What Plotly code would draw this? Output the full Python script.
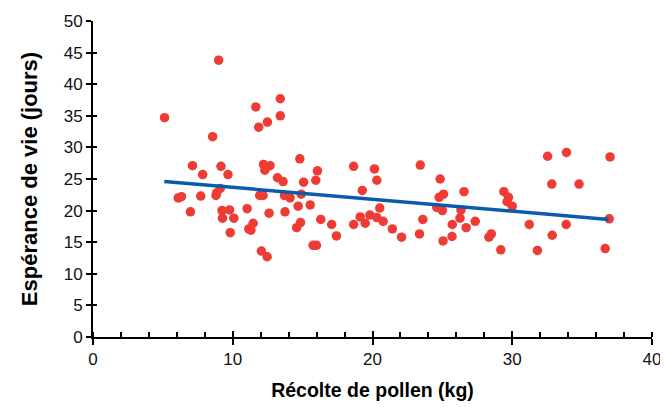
import plotly.graph_objects as go

pollen_kg = [5.12, 8.99, 11.65, 13.4, 11.86, 12.48, 13.4, 8.56, 7.12, 7.85, 9.16, 9.66, 12.2, 12.67, 12.3, 13.2,
             6.1, 6.33, 7.71, 8.8, 8.85, 9.1, 6.97, 9.23, 9.27, 9.77, 10.08, 9.82, 11.03, 11.46, 11.15, 11.3,
             11.93, 12.17, 12.6, 12.05, 12.46, 14.8, 13.6, 15.07, 16.06, 15.94, 13.7, 14.1, 14.9, 13.74, 14.68,
             15.54, 14.85, 14.57, 16.3, 17.08, 17.42, 18.65, 19.27, 20.14, 20.31, 20.52, 19.12, 18.65, 19.48,
             19.81, 20.31, 20.76, 21.42, 22.08, 23.42, 24.84, 24.77, 25.08, 24.6, 25.0, 23.6, 23.36, 26.55,
             26.33, 26.26, 25.71, 25.69, 25.05, 26.7, 15.75, 15.99, 32.53, 33.88, 37.0, 32.83, 34.78, 29.4,
             29.73, 29.63, 30.0, 27.35, 28.5, 28.33, 31.22, 33.86, 32.86, 36.94, 29.18, 31.8, 36.65]
esperance_jours = [34.7, 43.8, 36.4, 37.7, 33.2, 34.0, 35.0, 31.7, 27.1, 25.7, 27.0, 25.7, 27.3, 27.1, 26.4, 25.2,
                   22.0, 22.2, 22.3, 22.4, 22.8, 23.5, 19.8, 20.0, 18.8, 20.1, 18.8, 16.5, 20.3, 18.0, 17.1, 16.9,
                   22.4, 22.4, 19.6, 13.6, 12.7, 28.2, 24.6, 24.5, 26.3, 24.8, 22.4, 22.0, 22.6, 19.8, 20.7,
                   20.9, 18.1, 17.3, 18.6, 17.8, 16.0, 27.0, 23.2, 26.6, 24.8, 20.4, 19.0, 17.8, 18.0,
                   19.3, 18.9, 18.3, 17.1, 15.8, 27.2, 25.0, 22.1, 22.6, 20.5, 20.0, 18.6, 16.3, 23.0,
                   20.1, 18.8, 17.8, 15.9, 15.2, 17.3, 14.5, 14.5, 28.6, 29.2, 28.5, 24.2, 24.2, 23.0,
                   22.1, 21.4, 20.7, 18.3, 16.3, 15.8, 17.8, 17.8, 16.1, 18.7, 13.8, 13.7, 14.0]

trend_x = [5.1, 36.9]
trend_y = [24.6, 18.6]

x_ticks = [0, 10, 20, 30, 40]
y_ticks = [0, 5, 10, 15, 20, 25, 30, 35, 40, 45, 50]

font_family = "Liberation Sans, Arial, sans-serif"

fig = go.Figure()
fig.add_trace(go.Scatter(
    x=pollen_kg, y=esperance_jours, mode="markers",
    marker=dict(color="#EE3B33", size=9.5, line=dict(width=0)),
    showlegend=False, hoverinfo="skip"))
fig.add_trace(go.Scatter(
    x=trend_x, y=trend_y, mode="lines",
    line=dict(color="#0A5CAB", width=3.5),
    showlegend=False, hoverinfo="skip"))
# invisible trace on overlay axes (for crossing tick marks)
fig.add_trace(go.Scatter(x=[0], y=[0], xaxis="x2", yaxis="y2", mode="markers",
                         marker=dict(opacity=0), showlegend=False, hoverinfo="skip"))

fig.update_layout(
    width=660, height=402,
    margin=dict(l=85, r=16, t=13, b=73),
    paper_bgcolor="white", plot_bgcolor="white",
    font=dict(family=font_family, color="#111111"),
    xaxis=dict(
        range=[0, 40], tickvals=x_ticks, ticktext=[str(v) for v in x_ticks],
        showgrid=False, zeroline=False,
        showline=True, linecolor="black", linewidth=2,
        ticks="outside", ticklen=6, tickwidth=2, tickcolor="black",
        minor=dict(ticks="inside", dtick=2, tick0=0, ticklen=5, tickwidth=1.5, tickcolor="black", showgrid=False),
        tickfont=dict(size=17, family=font_family, color="#111111"),
        title=dict(text="<b>Récolte de pollen (kg)</b>", font=dict(size=19.5, family=font_family, color="black"),
                   standoff=15),
        automargin=False,
    ),
    yaxis=dict(
        range=[0, 50], tickvals=y_ticks, ticktext=[str(v) for v in y_ticks],
        showgrid=False, zeroline=False,
        showline=True, linecolor="black", linewidth=2,
        ticks="outside", ticklen=5, tickwidth=1.5, tickcolor="black",
        tickfont=dict(size=17, family=font_family, color="#111111"),
        title=dict(text="<b>Espérance de vie (jours)</b>", font=dict(size=22, family=font_family, color="black"),
                   standoff=20),
        automargin=False,
    ),
    xaxis2=dict(
        overlaying="x", range=[0, 40], tickvals=x_ticks, showticklabels=False,
        showgrid=False, zeroline=False, showline=False,
        ticks="inside", ticklen=6, tickwidth=2, tickcolor="black", side="bottom", anchor="y2",
    ),
    yaxis2=dict(
        overlaying="y", range=[0, 50], tickvals=y_ticks, showticklabels=False,
        showgrid=False, zeroline=False, showline=False,
        ticks="inside", ticklen=4, tickwidth=1.5, tickcolor="black", side="left", anchor="x2",
    ),
)

fig.write_html("out.html")
